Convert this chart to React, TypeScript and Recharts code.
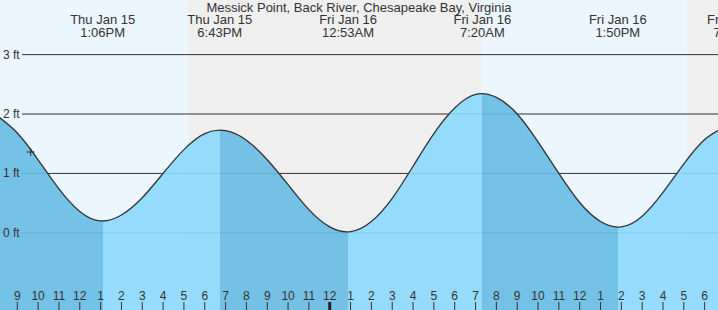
import React from 'react';
import { ComposedChart, Area, XAxis, YAxis, ReferenceLine, ReferenceArea, ReferenceDot } from 'recharts';

// hours counted from Thu Jan 15 00:00, one reading per hour
const hours = [
    8, 9, 10, 11, 12, 13, 14, 15, 16, 17, 18, 19, 20, 21, 22, 23, 24, 25,
    26, 27, 28, 29, 30, 31, 32, 33, 34, 35, 36, 37, 38, 39, 40, 41, 42, 43,
];
const levels = [
    1.98, 1.68, 1.23, 0.74, 0.36, 0.2, 0.3, 0.59, 1.0, 1.4, 1.67, 1.72, 1.56, 1.23, 0.81, 0.39, 0.1, 0.02,
    0.19, 0.58, 1.12, 1.67, 2.1, 2.33, 2.28, 2.0, 1.53, 1.0, 0.51, 0.19, 0.1, 0.28, 0.68, 1.16, 1.57, 1.79,
];

// visible window
const viewStart = 8.17;
const viewEnd = 42.64;

const eventTimes = [13.1, 18.72, 24.88, 31.33, 37.83, 43.5];
const eventDays = ['Thu Jan 15', 'Thu Jan 15', 'Fri Jan 16', 'Fri Jan 16', 'Fri Jan 16', 'Fri Jan 16'];
const eventClock = ['1:06PM', '6:43PM', '12:53AM', '7:20AM', '1:50PM', '7:31PM'];

const sunsets = [17.21, 41.17];
const sunrises = [31.28, 42.64];

const hourTicks = [
    9, 10, 11, 12, 13, 14, 15, 16, 17, 18, 19, 20, 21, 22, 23, 24, 25, 26, 27, 28, 29, 30, 31, 32,
    33, 34, 35, 36, 37, 38, 39, 40, 41, 42,
];
const levelTicks = [0, 1, 2, 3];

const nowTime = 9.64;
const nowLevel = 1.36;

const title = 'Messick Point, Back River, Chesapeake Bay, Virginia';

const FONT = '"Liberation Sans", Arial, sans-serif';
const INK = '#333';
const FALLING = '#67bce4';
const RISING = '#8cd9fe';

const data = hours.map((h, i) => ({ h, level: levels[i] }));
const dStart = hours[0];
const dEnd = hours[hours.length - 1];

// falling tide darker, rising tide lighter (offsets across the area's own width)
const bounds = [dStart, ...eventTimes.filter((t) => t < dEnd), dEnd];
const stops: React.ReactElement[] = [];
for (let i = 0; i < bounds.length - 1; i++) {
    const c = i % 2 === 0 ? FALLING : RISING;
    stops.push(<stop key={`a${i}`} offset={(bounds[i] - dStart) / (dEnd - dStart)} stopColor={c} />);
    stops.push(<stop key={`b${i}`} offset={(bounds[i + 1] - dStart) / (dEnd - dStart)} stopColor={c} />);
}

const hourLabel = (h: number) => (h % 12 === 0 ? 12 : h % 12);

const HourTick = (p: any) => {
    const h = p.payload.value;
    const midnight = h % 24 === 0;
    return (
        <g>
            <text x={p.x} y={p.y} textAnchor="middle" fontSize={12} fontFamily={FONT} fill={INK}>
                {hourLabel(h)}
            </text>
            <line x1={p.x} x2={p.x} y1={p.y + 2} y2={p.y + 10} stroke={midnight ? '#222' : INK} strokeWidth={midnight ? 3 : 1} />
        </g>
    );
};

const LevelTick = (p: any) => (
    <text x={3} y={p.y} dy={4} fontSize={12} fontFamily={FONT} fill={INK}>
        {`${p.payload.value} ft`}
    </text>
);

const GridLine = (p: any) => (
    <line x1={p.x1 + 22} y1={p.y1} x2={p.x2} y2={p.y2} stroke={INK} strokeWidth={1} />
);

const NowMark = (p: any) => (
    <g stroke={INK} strokeWidth={1}>
        <line x1={p.cx - 4} x2={p.cx + 4} y1={p.cy} y2={p.cy} />
        <line x1={p.cx} x2={p.cx} y1={p.cy - 4} y2={p.cy + 4} />
    </g>
);

const eventLabel = (i: number) => (p: any) => {
    const x = p.viewBox ? p.viewBox.x : 0;
    return (
        <text textAnchor="middle" fontSize={13} fontFamily={FONT} fill={INK}>
            <tspan x={x} y={24}>{eventDays[i]}</tspan>
            <tspan x={x} y={37}>{eventClock[i]}</tspan>
        </text>
    );
};

export default function App() {
    return (
        <div style={{ position: 'absolute', left: 0, top: 0, width: 718, height: 310, background: '#ebf6fe' }}>
            <ComposedChart width={718} height={310} data={data} margin={{ top: 0, right: 0, bottom: 0, left: 0 }}>
                <defs>
                    <linearGradient id="tideFill" x1="0" y1="0" x2="1" y2="0">
                        {stops}
                    </linearGradient>
                </defs>
                <XAxis
                    dataKey="h"
                    type="number"
                    domain={[viewStart, viewEnd]}
                    allowDataOverflow
                    ticks={hourTicks}
                    interval={0}
                    mirror
                    tickSize={8}
                    tickMargin={2}
                    axisLine={false}
                    tickLine={false}
                    tick={<HourTick />}
                />
                <YAxis
                    type="number"
                    domain={[-1.3, 3.92]}
                    allowDataOverflow
                    ticks={levelTicks}
                    mirror
                    axisLine={false}
                    tickLine={false}
                    tick={<LevelTick />}
                />
                {sunsets.map((s, i) => (
                    <ReferenceArea key={`n${i}`} x1={s} x2={sunrises[i]} fill="#efefef" fillOpacity={1} stroke="none" zIndex={-300} />
                ))}
                {levelTicks.map((v) => (
                    <ReferenceLine key={`g${v}`} y={v} shape={GridLine} zIndex={-200} />
                ))}
                <Area
                    type="natural"
                    dataKey="level"
                    stroke={INK}
                    strokeWidth={1.3}
                    fill="url(#tideFill)"
                    fillOpacity={0.9}
                    baseValue="dataMin"
                    dot={false}
                    activeDot={false}
                    isAnimationActive={false}
                />
                <ReferenceDot x={nowTime} y={nowLevel} r={4} shape={NowMark} />
                {eventTimes.map((t, i) => (
                    <ReferenceLine key={`e${i}`} x={t} stroke="none" ifOverflow="visible" label={eventLabel(i)} />
                ))}
            </ComposedChart>
            <div
                style={{
                    position: 'absolute',
                    top: 0,
                    left: 0,
                    width: 718,
                    textAlign: 'center',
                    fontFamily: FONT,
                    fontSize: 13,
                    lineHeight: '15px',
                    color: INK,
                }}
            >
                {title}
            </div>
        </div>
    );
}
